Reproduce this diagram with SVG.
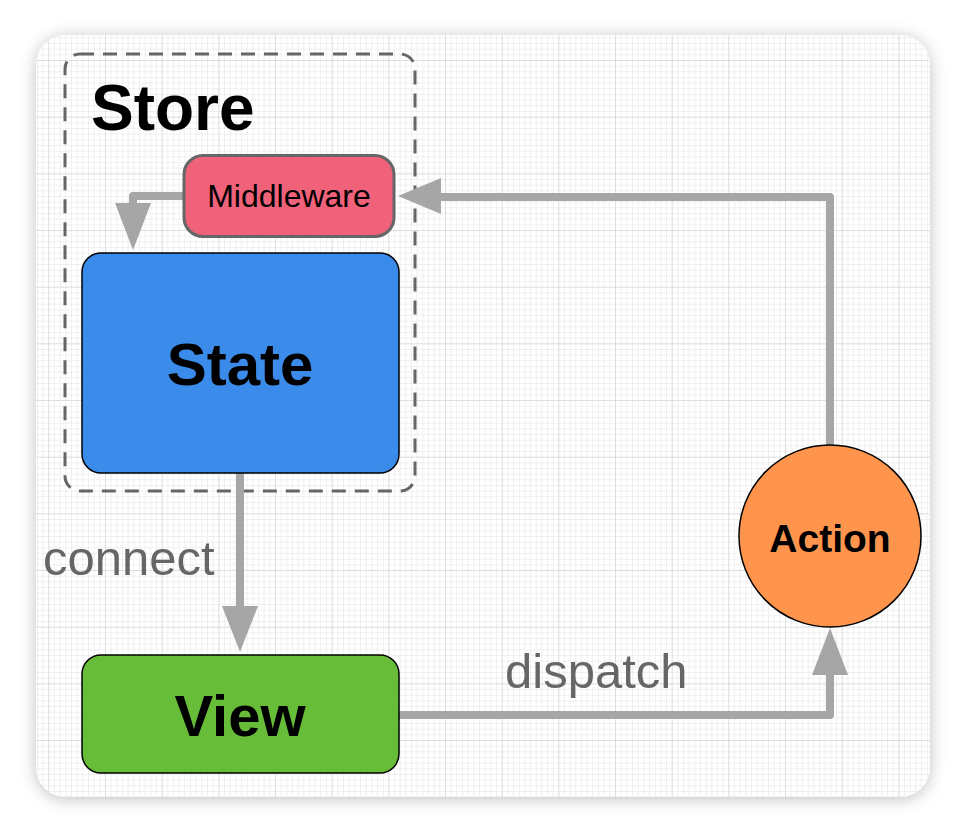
<svg xmlns="http://www.w3.org/2000/svg" width="966" height="834" viewBox="0 0 966 834">
<defs>
<style>
.conn{fill:none;stroke:#A6A6A6;stroke-width:8;stroke-linejoin:round;stroke-linecap:butt}
.head{fill:#A6A6A6}
.lbl{font-family:"Liberation Sans",Arial,sans-serif;font-size:49px;fill:#666}
.bold{font-family:"Liberation Sans",Arial,sans-serif;font-weight:bold;fill:#000;text-anchor:middle}
.box{stroke:#000;stroke-width:1.5}
</style>
<pattern id="minor" patternUnits="userSpaceOnUse" x="105" y="3.33" width="5.667" height="5.667">
<path d="M0 0V5.667M0 0H5.667" stroke="#E2E2E2" stroke-width="1" fill="none"/>
</pattern>
<pattern id="major" patternUnits="userSpaceOnUse" x="105" y="3.33" width="56.67" height="56.67">
<path d="M0 0V56.67M0 0H56.67" stroke="#CDCDCD" stroke-width="1" fill="none"/>
</pattern>
<clipPath id="cardclip"><rect x="36" y="35" width="894" height="762" rx="30"/></clipPath>
<filter id="sh" x="-10%" y="-10%" width="120%" height="120%">
<feDropShadow dx="0" dy="2" stdDeviation="8" flood-color="#000" flood-opacity="0.25"/>
</filter>
</defs>
<rect width="966" height="834" fill="#fff"/>
<g id="card">
<rect x="36" y="35" width="894" height="762" rx="30" fill="#fff" filter="url(#sh)"/>
<g clip-path="url(#cardclip)">
<rect x="36" y="35" width="894" height="762" fill="url(#minor)"/>
<rect x="36" y="35" width="894" height="762" fill="url(#major)"/>
</g>
</g>
<g id="store">
<rect x="65" y="54" width="350" height="437" rx="15" fill="none" stroke="#666" stroke-width="3" stroke-dasharray="14 9"/>
<text x="91" y="130" font-family="Liberation Sans,Arial,sans-serif" font-weight="bold" font-size="64" fill="#000">Store</text>
</g>
<g id="connectors">
<path class="conn" d="M183 196H133V204"/>
<polygon class="head" points="115,203 151,203 133,250"/>
<path class="conn" d="M830 445V197H440"/>
<polygon class="head" points="441,178 441,214 398,196"/>
<path class="conn" d="M240 473V607"/>
<polygon class="head" points="222,606 258,606 240,652"/>
<path class="conn" d="M399 715H830V673"/>
<polygon class="head" points="812,675 848,675 830,628"/>
<text class="lbl" x="43" y="575">connect</text>
<text class="lbl" x="505" y="688">dispatch</text>
</g>
<g id="middleware">
<rect x="184" y="155.5" width="210" height="81" rx="19" fill="#F0627A" stroke="#666" stroke-width="3"/>
<text x="289" y="207" font-family="Liberation Sans,Arial,sans-serif" font-size="32" fill="#000" text-anchor="middle">Middleware</text>
</g>
<g id="state">
<rect class="box" x="82" y="253" width="317" height="220" rx="19" fill="#3A8BEA"/>
<text class="bold" x="240" y="385" font-size="60">State</text>
</g>
<g id="view">
<rect class="box" x="82" y="655" width="317" height="118" rx="19" fill="#67BD38"/>
<text class="bold" x="240" y="736" font-size="58">View</text>
</g>
<g id="action">
<circle class="box" cx="830" cy="536" r="91" fill="#FF944D"/>
<text class="bold" x="830" y="552" font-size="39">Action</text>
</g>
</svg>
